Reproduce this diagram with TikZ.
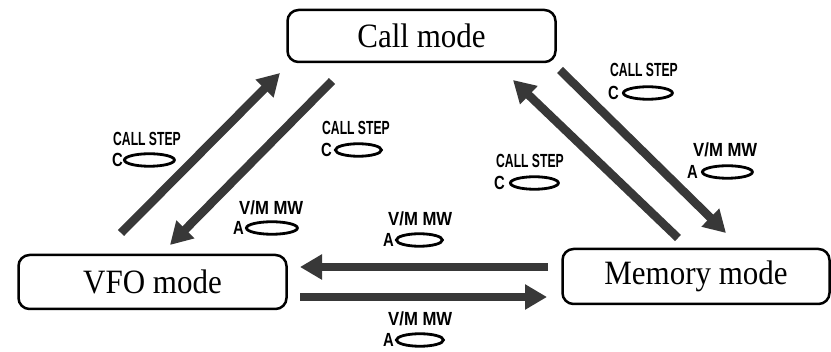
\documentclass[tikz,border=0pt]{standalone}
\usepackage{fontspec}
\setmainfont{Liberation Serif}
\newfontfamily\labfont{Liberation Sans}
\usetikzlibrary{arrows.meta,shapes.geometric}
\tikzset{
  modebox/.style={draw=black,line width=2.5pt,rounded corners=11pt,fill=white,
    inner sep=0pt,font=\fontsize{31}{31}\selectfont},
  bigarrow/.style={draw=black!78,line width=8.5pt,
    -{Triangle[length=22pt,width=24pt]}},
  lab/.style={inner sep=0pt,font=\labfont\bfseries\fontsize{19}{19}\selectfont,anchor=west},
  btn/.style={draw=black,ellipse,line width=2.8pt,inner sep=0pt,
    minimum width=46pt,minimum height=12.5pt,anchor=west},
}
\newcommand{\cs}{\scalebox{0.64}[1]{CALL STEP}}
\newcommand{\vm}{\scalebox{0.88}[1]{V/M MW}}
\newcommand{\ltr}[1]{\scalebox{0.78}[1]{#1}}
\begin{document}
\begin{tikzpicture}[x=1pt,y=-1pt]
\useasboundingbox (0,0) rectangle (831,352);
% mode boxes
\node[modebox,minimum width=268pt,minimum height=52pt] (call) at (421.5,36) {\scalebox{1}[1.1]{Call mode}};
\node[modebox,minimum width=268pt,minimum height=54pt] (vfo) at (152.5,282) {\scalebox{1}[1.1]{VFO mode}};
\node[modebox,minimum width=267pt,minimum height=55pt] (mem) at (696,276.5) {\scalebox{1}[1.1]{Memory mode}};
% arrow end points
\coordinate (a1s) at (121,233);
\coordinate (a1e) at (280,73);
\coordinate (a2s) at (332,81);
\coordinate (a2e) at (170,245);
\coordinate (a3s) at (678,238);
\coordinate (a3e) at (513,80);
\coordinate (a4s) at (560,70);
\coordinate (a4e) at (726,233);
\coordinate (a5s) at (548,267);
\coordinate (a5e) at (300,267);
\coordinate (a6s) at (300,297);
\coordinate (a6e) at (547,297);
\draw[bigarrow] (a1s) -- (a1e);
\draw[bigarrow] (a2s) -- (a2e);
\draw[bigarrow] (a3s) -- (a3e);
\draw[bigarrow] (a4s) -- (a4e);
\draw[bigarrow] (a5s) -- (a5e);
\draw[bigarrow] (a6s) -- (a6e);
% button labels
\node[lab] (b1t) at (113,139) {\cs};
\node[lab] (b1l) at (112,160) {\ltr{C}};
\node[btn,minimum width=50pt] (b1e) at (123,160) {};
\node[lab] (b2t) at (322,128) {\cs};
\node[lab] (b2l) at (321,150) {\ltr{C}};
\node[btn] (b2e) at (334,150) {};
\node[lab] (b3t) at (239,208) {\vm};
\node[lab] (b3l) at (233,228) {\ltr{A}};
\node[btn,minimum width=51pt] (b3e) at (245,228) {};
\node[lab] (b4t) at (388,219) {\vm};
\node[lab] (b4l) at (383,240) {\ltr{A}};
\node[btn] (b4e) at (395,240) {};
\node[lab] (b5t) at (388,319) {\vm};
\node[lab] (b5l) at (383,340) {\ltr{A}};
\node[btn,minimum width=47pt] (b5e) at (395,340) {};
\node[lab] (b6t) at (610,70) {\cs};
\node[lab] (b6l) at (608,93) {\ltr{C}};
\node[btn,minimum width=49pt] (b6e) at (622,93) {};
\node[lab] (b7t) at (693,150) {\vm};
\node[lab] (b7l) at (687,172) {\ltr{A}};
\node[btn,minimum width=50pt] (b7e) at (701,172) {};
\node[lab] (b8t) at (496,161) {\cs};
\node[lab] (b8l) at (494,183) {\ltr{C}};
\node[btn,minimum width=48pt] (b8e) at (509,183) {};
\end{tikzpicture}
\end{document}
